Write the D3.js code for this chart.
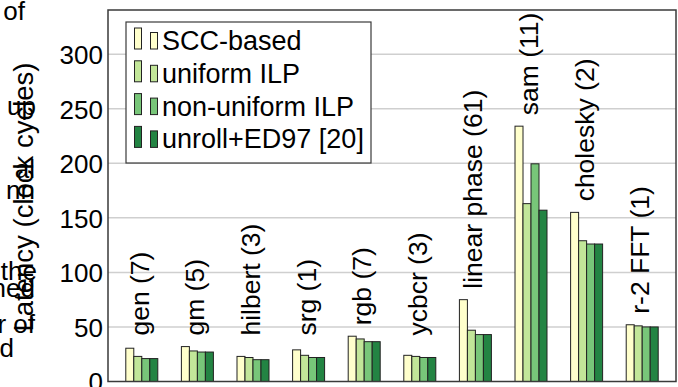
<!DOCTYPE html>
<html>
<head>
<meta charset="utf-8">
<script src="https://cdn.jsdelivr.net/npm/d3@7/dist/d3.min.js"></script>
<style>
  html, body { margin: 0; padding: 0; background: #fff; }
  svg { display: block; font-family: "Liberation Sans", Arial, sans-serif; }
</style>
</head>
<body>
<svg id="chart" width="678" height="387"></svg>
<script>
// Benchmarks (with kernel counts) and latency per scheduling approach
const categories = ["gen (7)", "gm (5)", "hilbert (3)", "srg (1)", "rgb (7)",
                    "ycbcr (3)", "linear phase (61)", "sam (11)", "cholesky (2)", "r-2 FFT (1)"];
const seriesNames = ["SCC-based", "uniform ILP", "non-uniform ILP", "unroll+ED97 [20]"];
const sccBased     = [30.5, 32, 23, 29, 41.5, 24, 75, 234, 155, 52];
const uniformILP   = [23, 28, 22, 24, 39, 23, 47, 163, 129, 51];
const nonUniformILP= [21, 27, 20, 22, 36.5, 22, 43, 199.5, 126, 50];
const unrollED97   = [21, 27, 20, 22, 36.5, 22, 43, 157, 126, 50];
const yTicks = [0, 50, 100, 150, 200, 250, 300];
const colors = ["#ffffcc", "#c2e699", "#78c679", "#238443"];
// text lines of the neighbouring column that run into the figure
const marginText = [["of", 25, 20], ["up", 36, 115], ["al", 35, 178], ["nn", 35, 199],
                    ["the", 37, 280], ["ned", 35, 297], ["r of", 35, 333], ["d", 14, 357]];

const series = [sccBased, uniformILP, nonUniformILP, unrollED97];
const data = categories.map((c, i) => ({ cat: c, vals: series.map(s => s[i]) }));

const svg = d3.select("#chart");
const plotL = 108, plotR = 676, plotT = 10, plotB = 381.5;

const x = d3.scaleBand().domain(categories).range([plotL, plotR])
  .paddingInner(0.4245).paddingOuter(0.32);
const xs = d3.scaleBand().domain(d3.range(seriesNames.length)).range([0, x.bandwidth()]);
const y = d3.scaleLinear().domain([0, 340]).range([plotB, plotT + 0.5]);

// neighbouring text
svg.append("g").selectAll("text").data(marginText).join("text")
  .attr("x", d => d[1]).attr("y", d => d[2])
  .attr("text-anchor", "end").attr("font-size", 26).attr("fill", "#000")
  .text(d => d[0]);

// gridlines
svg.append("g").selectAll("line").data(yTicks.filter(t => t > 0)).join("line")
  .attr("x1", plotL).attr("x2", plotR)
  .attr("y1", d => y(d)).attr("y2", d => y(d))
  .attr("stroke", "#cfcfcf").attr("stroke-width", 1.5);

// y axis tick labels
const yAxis = d3.axisLeft(y).tickValues(yTicks).tickSize(0).tickPadding(5);
const ya = svg.append("g").attr("transform", `translate(${plotL},0)`).call(yAxis);
ya.select(".domain").remove();
ya.selectAll("text").attr("font-size", 26).attr("font-family", "Liberation Sans, Arial, sans-serif")
  .attr("fill", "#000").attr("dy", "0.36em");

// y axis title
svg.append("text")
  .attr("transform", "translate(33,197) rotate(-90)")
  .attr("text-anchor", "middle").attr("font-size", 27.5).attr("fill", "#000")
  .text("Latency (clock cycles)");

// bars
const groups = svg.append("g").selectAll("g").data(data).join("g")
  .attr("transform", d => `translate(${x(d.cat)},0)`);
groups.selectAll("rect").data(d => d.vals.map((v, k) => ({ v, k }))).join("rect")
  .attr("x", d => xs(d.k)).attr("width", xs.bandwidth())
  .attr("y", d => y(d.v)).attr("height", d => y(0) - y(d.v))
  .attr("fill", d => colors[d.k]).attr("stroke", "#222").attr("stroke-width", 1);

// category labels above each group
svg.append("g").selectAll("text").data(data).join("text")
  .attr("transform", d => {
    const base = y(Math.max(d3.max(d.vals), 32)) - 11;
    return `translate(${x(d.cat) + x.bandwidth() / 2},${base}) rotate(-90)`;
  })
  .attr("y", 7).attr("text-anchor", "start").attr("font-size", 26.5).attr("fill", "#000")
  .text(d => d.cat);

// plot frame
svg.append("rect").attr("x", plotL).attr("y", plotT).attr("width", plotR - plotL).attr("height", plotB - plotT)
  .attr("fill", "none").attr("stroke", "#3a3a3a").attr("stroke-width", 1.5);

// legend
const lg = svg.append("g");
lg.append("rect").attr("x", 126).attr("y", 22).attr("width", 245).attr("height", 141)
  .attr("fill", "#fff").attr("stroke", "#3a3a3a").attr("stroke-width", 1.2);
const rows = lg.selectAll("g").data(seriesNames).join("g")
  .attr("transform", (d, i) => `translate(0,${i * 32.8})`);
rows.append("rect").attr("x", 134.5).attr("y", 28).attr("width", 7).attr("height", 21)
  .attr("fill", (d, i) => colors[i]).attr("stroke", "#222").attr("stroke-width", 1);
rows.append("rect").attr("x", 150.5).attr("y", 32.5).attr("width", 7).attr("height", 16.5)
  .attr("fill", (d, i) => colors[i]).attr("stroke", "#222").attr("stroke-width", 1);
rows.append("text").attr("x", 162).attr("y", 50).attr("font-size", 27).attr("fill", "#000")
  .text(d => d);
</script>
</body>
</html>
